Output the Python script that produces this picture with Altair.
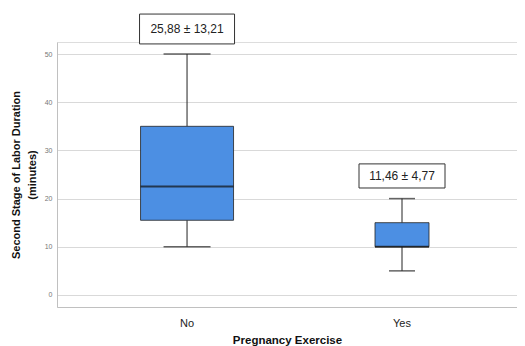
import altair as alt
import pandas as pd

groups = ["No", "Yes"]
whisker_low = [10, 5]
q1 = [15.5, 10]
median = [22.5, 10]
q3 = [35, 15]
whisker_high = [50, 20]
box_width = [93, 54]
cap_width = [47, 26]

labels = ["25,88 ± 13,21", "11,46 ± 4,77"]
label_y = [55.2, 24.7]
label_lo = [52.1, 22.2]
label_hi = [58.3, 27.2]
label_w = [95, 86]

df = pd.DataFrame({
    "group": groups, "lo": whisker_low, "q1": q1, "med": median, "q3": q3,
    "hi": whisker_high, "bw": box_width, "cw": cap_width,
    "label": labels, "ly": label_y, "llo": label_lo, "lhi": label_hi, "lw": label_w,
})

FONT = "Liberation Sans"
yscale = alt.Scale(domain=[-2.5, 52.5], nice=False, zero=False)

x = alt.X("group:N", sort=groups,
          scale=alt.Scale(paddingInner=0, paddingOuter=0.07, align=0.75),
          axis=alt.Axis(title="Pregnancy Exercise", labelAngle=0, ticks=False,
                        labelFontSize=11, labelColor="#222", labelPadding=10,
                        titleFontSize=11.5, titleFontWeight="bold", titleColor="#111",
                        titlePadding=6, domainColor="#c0c0c0", grid=False))

base = alt.Chart(df)

y_axis = alt.Axis(title=["Second Stage of Labor Duration", "(minutes)"],
                  values=[0, 10, 20, 30, 40, 50], ticks=False,
                  labelFontSize=7, labelColor="#777", labelPadding=5,
                  titleFontSize=11, titleFontWeight="bold", titleColor="#111",
                  titleLineHeight=16,
                  titlePadding=7, domainColor="#c0c0c0", gridColor="#d9d9d9")

grid_layer = base.mark_rule(opacity=0).encode(
    x=x, y=alt.Y("lo:Q", scale=yscale, axis=y_axis))

whisk_low = base.mark_rule(color="#222", strokeWidth=1).encode(
    x=x, y=alt.Y("lo:Q", scale=yscale), y2="q1:Q")
whisk_high = base.mark_rule(color="#222", strokeWidth=1).encode(
    x=x, y=alt.Y("q3:Q", scale=yscale), y2="hi:Q")
cap_low = base.mark_tick(color="#222", thickness=1.5, orient="horizontal").encode(
    x=x, y=alt.Y("lo:Q", scale=yscale), size=alt.Size("cw:Q", scale=None))
cap_high = base.mark_tick(color="#222", thickness=1.5, orient="horizontal").encode(
    x=x, y=alt.Y("hi:Q", scale=yscale), size=alt.Size("cw:Q", scale=None))
box = base.mark_bar(fill="#4C8FE3", stroke="#222", strokeWidth=0.8).encode(
    x=x, y=alt.Y("q1:Q", scale=yscale), y2="q3:Q", size=alt.Size("bw:Q", scale=None))
med = base.mark_tick(color="#111", thickness=2, orient="horizontal").encode(
    x=x, y=alt.Y("med:Q", scale=yscale), size=alt.Size("bw:Q", scale=None))

lab_box = base.mark_bar(fill="white", stroke="#333", strokeWidth=1, clip=False).encode(
    x=x, y=alt.Y("llo:Q", scale=yscale), y2="lhi:Q", size=alt.Size("lw:Q", scale=None))
lab_text = base.mark_text(font=FONT, fontSize=12, color="#222", clip=False).encode(
    x=x, y=alt.Y("ly:Q", scale=yscale), text="label:N")

chart = alt.layer(grid_layer, whisk_low, whisk_high, cap_low, cap_high, box, med,
                  lab_box, lab_text).properties(
    width=460, height=265,
    autosize=alt.AutoSizeParams(type="none"),
    padding={"left": 49, "top": 34, "right": 0, "bottom": 39},
).configure_view(stroke=None).configure(font=FONT)

chart.save("out.html", embed_options={"renderer": "svg", "actions": False})
